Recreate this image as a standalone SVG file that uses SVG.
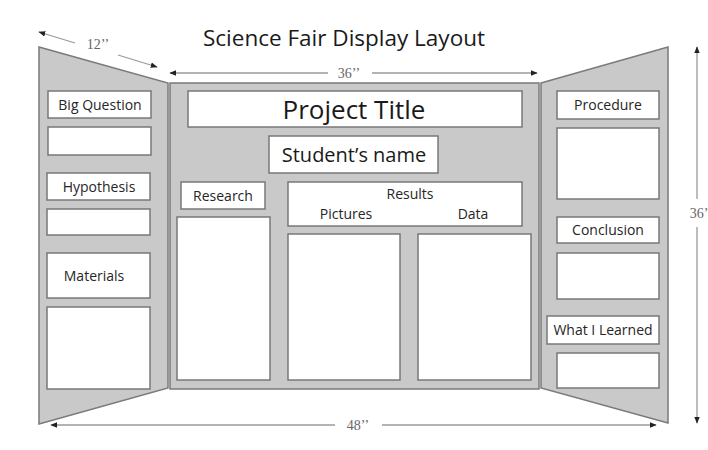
<svg xmlns="http://www.w3.org/2000/svg" width="708" height="450" viewBox="0 0 708 450">
<style>
.panel{fill:#c9c9c9;stroke:#7a7a7a;stroke-width:1.5}
.box{fill:#ffffff;stroke:#787878;stroke-width:1.5}
.lbl{font-family:"Open Sans","Liberation Sans",sans-serif;font-size:14px;fill:#262626;text-anchor:middle}
.big{font-family:"Open Sans","Liberation Sans",sans-serif;fill:#1a1a1a;text-anchor:middle}
.dim{stroke:#9a9a9a;stroke-width:1.3;fill:none}
.dimt{font-family:"Liberation Serif",serif;font-size:14px;fill:#666;text-anchor:middle}
</style>
<defs>
<marker id="ah" viewBox="0 0 10 10" refX="9" refY="5" markerWidth="7" markerHeight="7" orient="auto-start-reverse" markerUnits="userSpaceOnUse">
<path d="M0,1 L10,5 L0,9 Z" fill="#222"/>
</marker>
</defs>
<rect width="708" height="450" fill="#ffffff"/>
<text class="big" x="344" y="46" font-size="22.5">Science Fair Display Layout</text>

<g id="left-panel">
<polygon class="panel" points="39,47 168,83 168,388 39,424"/>
</g>
<g id="center-panel">
<rect class="panel" x="170" y="83" width="369" height="306"/>
</g>
<g id="right-panel">
<polygon class="panel" points="541,83 668,47 668,423 541,388"/>
</g>

<g id="big-question"><rect class="box" x="48" y="91" width="103" height="27"/><text class="lbl" x="100" y="110">Big Question</text></g>
<g id="big-question-box"><rect class="box" x="48" y="127" width="103" height="28"/></g>
<g id="hypothesis"><rect class="box" x="47" y="173" width="103" height="27"/><text class="lbl" x="99" y="192">Hypothesis</text></g>
<g id="hypothesis-box"><rect class="box" x="47" y="209" width="103" height="26"/></g>
<g id="materials"><rect class="box" x="47" y="253" width="103" height="45"/><text class="lbl" x="94" y="281">Materials</text></g>
<g id="materials-box"><rect class="box" x="47" y="307" width="103" height="82"/></g>

<g id="project-title"><rect class="box" x="188" y="91" width="334" height="36"/><text class="big" x="354" y="119" font-size="26">Project Title</text></g>
<g id="students-name"><rect class="box" x="269" y="136" width="169" height="37"/><text class="big" x="354" y="162" font-size="20">Student’s name</text></g>
<g id="research"><rect class="box" x="181" y="182" width="84" height="27"/><text class="lbl" x="223" y="201">Research</text></g>
<g id="research-box"><rect class="box" x="177" y="217" width="93" height="163"/></g>
<g id="results"><rect class="box" x="288" y="182" width="234" height="44"/>
<text class="lbl" x="410" y="199">Results</text>
<text class="lbl" x="346" y="219">Pictures</text>
<text class="lbl" x="473" y="219">Data</text></g>
<g id="pictures-box"><rect class="box" x="288" y="234" width="112" height="146"/></g>
<g id="data-box"><rect class="box" x="418" y="234" width="113" height="146"/></g>

<g id="procedure"><rect class="box" x="557" y="91" width="102" height="28"/><text class="lbl" x="608" y="110">Procedure</text></g>
<g id="procedure-box"><rect class="box" x="557" y="128" width="102" height="71"/></g>
<g id="conclusion"><rect class="box" x="557" y="217" width="102" height="26"/><text class="lbl" x="608" y="235">Conclusion</text></g>
<g id="conclusion-box"><rect class="box" x="557" y="253" width="102" height="46"/></g>
<g id="what-i-learned"><rect class="box" x="547" y="316" width="112" height="28"/><text class="lbl" x="603" y="335">What I Learned</text></g>
<g id="what-i-learned-box"><rect class="box" x="557" y="353" width="102" height="35"/></g>

<g id="connectors">
<line class="dim" x1="75" y1="43" x2="39" y2="32" marker-end="url(#ah)"/>
<line class="dim" x1="118" y1="55" x2="157" y2="67" marker-end="url(#ah)"/>
<text class="dimt" x="98" y="49">12’’</text>
<line class="dim" x1="328" y1="73" x2="170" y2="73" marker-end="url(#ah)"/>
<line class="dim" x1="372" y1="73" x2="537" y2="73" marker-end="url(#ah)"/>
<text class="dimt" x="349" y="78">36’’</text>
<line class="dim" x1="697" y1="199" x2="697" y2="47" marker-end="url(#ah)"/>
<line class="dim" x1="697" y1="227" x2="697" y2="423" marker-end="url(#ah)"/>
<text class="dimt" x="699" y="218" text-anchor="start">36’</text>
<line class="dim" x1="335" y1="425" x2="51" y2="425" marker-end="url(#ah)"/>
<line class="dim" x1="382" y1="425" x2="656" y2="425" marker-end="url(#ah)"/>
<text class="dimt" x="358" y="430">48’’</text>
</g>
</svg>
